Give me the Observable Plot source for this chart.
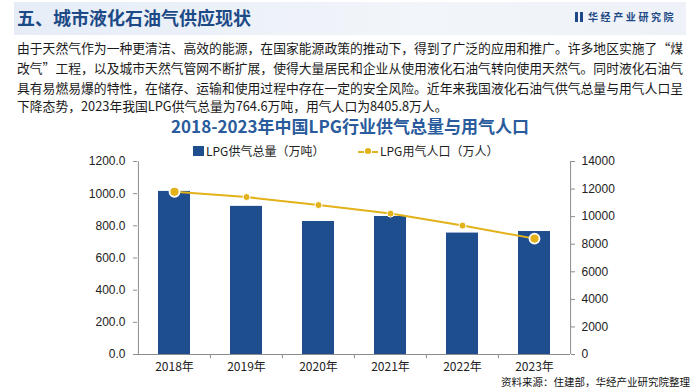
<!DOCTYPE html>
<html><head><meta charset="utf-8">
<script src="https://cdn.jsdelivr.net/npm/d3@7"></script>
<script src="https://cdn.jsdelivr.net/npm/@observablehq/plot@0.6"></script>
<style>
html,body{margin:0;padding:0;background:#fff;}
#page{position:relative;width:700px;height:390px;overflow:hidden;font-family:"Noto Sans CJK SC","Noto Sans",sans-serif;}
.abs{position:absolute;white-space:nowrap;}
#band{left:14px;top:2px;width:672px;height:33px;background:linear-gradient(to right,#e6edf7,#f2f5fa 60%,#eef2f8);}
#htitle{left:17px;top:5px;font-size:18px;font-weight:bold;color:#1d4a86;line-height:24px;}
#logo{left:588px;top:10px;font-size:10px;font-weight:bold;color:#1d4a86;letter-spacing:2.6px;line-height:14px;}
#logoicon{left:575px;top:12px;width:8px;height:10px;border-left:3px solid #1d4a86;border-right:3px solid #1d4a86;box-sizing:border-box;}
.para{left:17px;width:666px;font-size:12.8px;color:#1a1a1a;line-height:17px;text-align:justify;text-align-last:justify;}
#ctitle{left:0;width:700px;top:115px;text-align:center;font-size:17px;font-weight:bold;color:#2a5b9c;line-height:22px;}
#leg1{left:193px;top:146px;width:11px;height:10px;background:#1f4e8f;}
#leg1t{left:206px;top:143px;font-size:12px;color:#222;line-height:16px;}
#leg2line{left:358px;top:151px;width:20px;height:0;border-top:2px dashed #e3b119;}
#leg2dot{left:365px;top:148px;width:6px;height:6px;border-radius:50%;background:#e3b119;}
#leg2t{left:380px;top:143px;font-size:12px;color:#222;line-height:16px;}
#src{right:10px;top:376px;font-size:10.5px;color:#111;line-height:12px;}
#chart{position:absolute;left:0;top:140px;}
</style></head>
<body><div id="page">
<div class="abs" id="band"></div>
<div class="abs" id="htitle">五、城市液化石油气供应现状</div>
<div class="abs" id="logoicon"></div>
<div class="abs" id="logo">华经产业研究院</div>
<div class="abs para" style="top:39px">由于天然气作为一种更清洁、高效的能源，在国家能源政策的推动下，得到了广泛的应用和推广。许多地区实施了“煤</div>
<div class="abs para" style="top:59px">改气”工程，以及城市天然气管网不断扩展，使得大量居民和企业从使用液化石油气转向使用天然气。同时液化石油气</div>
<div class="abs para" style="top:79px">具有易燃易爆的特性，在储存、运输和使用过程中存在一定的安全风险。近年来我国液化石油气供气总量与用气人口呈</div>
<div class="abs para" style="top:97px;text-align-last:left;width:auto">下降态势，2023年我国LPG供气总量为764.6万吨，用气人口为8405.8万人。</div>
<div class="abs" id="ctitle">2018-2023年中国LPG行业供气总量与用气人口</div>
<div class="abs" id="leg1"></div>
<div class="abs" id="leg1t">LPG供气总量（万吨）</div>
<div class="abs" id="leg2line"></div>
<div class="abs" id="leg2dot"></div>
<div class="abs" id="leg2t">LPG用气人口（万人）</div>
<div id="chart"></div>
<div class="abs" id="src">资料来源：住建部，华经产业研究院整理</div>
</div>
<script>
const years = ["2018","2019","2020","2021","2022","2023"];
const supply = [1014, 921, 827, 858, 755, 764.6];
const population = [11800, 11420, 10840, 10220, 9350, 8405.8];
const supplyTicks = [0,200,400,600,800,1000,1200];
const popTicks = [0,2000,4000,6000,8000,10000,12000,14000];

const k = 1200/14000;
const data = years.map((y,i)=>({year:y, supply:supply[i], pop:population[i]}));
const W = 700, mL = 137, mR = 130;
const half = (W - mL - mR) / years.length / 2;
const axisColor = "#8c8c8c";
const gold = "#e3b119";

const chart = Plot.plot({
  width: W, height: 240,
  marginLeft: mL, marginRight: mR, marginTop: 21, marginBottom: 26,
  style: {fontFamily: "'Liberation Sans', Arial, sans-serif", fontSize: "12px", color: "#222", background: "transparent"},
  x: {domain: years, padding: 0},
  y: {domain: [0, 1200]},
  marks: [
    Plot.barY(data, {x: "year", y: "supply", fill: "#1f4e8f", insetLeft: 20, insetRight: 20}),
    Plot.ruleX([years[0]], {x: d=>d, dx: -half, y1: 0, y2: 1200, stroke: axisColor}),
    Plot.ruleX([years[years.length-1]], {x: d=>d, dx: half, y1: 0, y2: 1200, stroke: axisColor}),
    Plot.ruleY([0], {stroke: axisColor}),
    Plot.ruleX(years.slice(1), {x: d=>d, dx: -half, y1: 0, y2: -26, stroke: axisColor}),
    Plot.line(data, {x: "year", y: d=>d.pop*k, stroke: gold, strokeWidth: 2}),
    Plot.dot(data.slice(1,5), {x: "year", y: d=>d.pop*k, r: 3.5, fill: gold, stroke: "#fff", strokeWidth: 1}),
    Plot.dot([data[0], data[5]], {x: "year", y: d=>d.pop*k, r: 5, fill: gold, stroke: "#fff", strokeWidth: 1.8}),
    Plot.axisY({anchor: "left", ticks: supplyTicks, tickFormat: d=>d.toFixed(1), tickSize: 4, tickPadding: 8, label: null, stroke: axisColor, fill: "#222"}),
    Plot.axisY({anchor: "right", ticks: popTicks.map(v=>v*k), tickFormat: d=>String(Math.round(d/k)), tickSize: 4, tickPadding: 7, label: null, stroke: axisColor, fill: "#222"}),
    Plot.axisX({tickSize: 0, tickPadding: 8, tickFormat: d=>d+"年", label: null, fill: "#222", fontFamily: "'Noto Sans CJK SC', sans-serif"})
  ]
});
document.getElementById("chart").appendChild(chart);
</script>
</body></html>
